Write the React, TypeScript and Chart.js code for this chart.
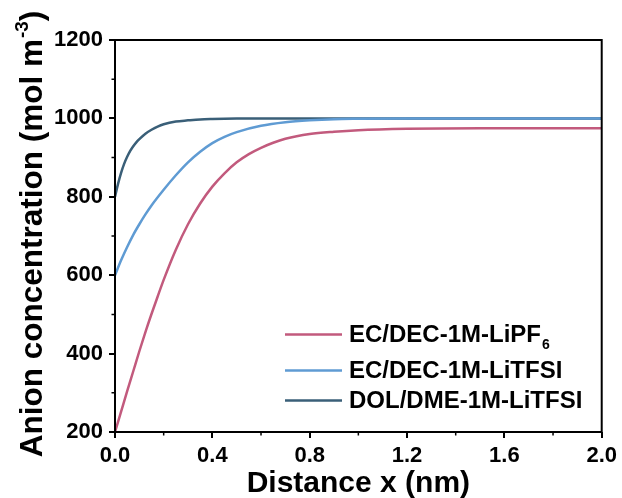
import React, { useEffect, useRef } from "react";
import { Chart, registerables } from "chart.js";

Chart.register(...registerables);

const FONT = "'Liberation Sans', Arial, Helvetica, sans-serif";

// Series labels (main part + subscript)
const seriesLabels = ["EC/DEC-1M-LiPF", "EC/DEC-1M-LiTFSI", "DOL/DME-1M-LiTFSI"];
const seriesSubscripts = ["6", "", ""];
const seriesColors = ["#c25a7d", "#5f9bd3", "#3a5f78"];

// EC/DEC-1M-LiPF6
const redX = [0, 0.025, 0.05, 0.075, 0.1, 0.125, 0.15, 0.175, 0.2, 0.25, 0.3, 0.35, 0.4, 0.45, 0.5, 0.55, 0.6, 0.65, 0.7, 0.8, 0.9, 1.0, 1.2, 1.5, 2.0];
const redY = [200, 252, 304, 355, 406, 455, 501, 545, 588, 665, 730, 783, 826, 860, 888, 909, 925, 938, 948, 960, 966, 970, 973.5, 975, 975];

// EC/DEC-1M-LiTFSI
const blueX = [0, 0.025, 0.05, 0.075, 0.1, 0.125, 0.15, 0.2, 0.25, 0.3, 0.35, 0.4, 0.45, 0.5, 0.6, 0.7, 0.8, 0.9, 1.0, 1.2, 2.0];
const blueY = [600, 638, 672, 703, 730, 755, 778, 818, 855, 888, 915, 937, 953, 965, 981, 990, 995, 998, 999, 1000, 1000];

// DOL/DME-1M-LiTFSI
const darkX = [0, 0.0125, 0.025, 0.0375, 0.05, 0.0625, 0.075, 0.0875, 0.1, 0.125, 0.15, 0.175, 0.2, 0.25, 0.3, 0.35, 0.4, 0.5, 0.6, 2.0];
const darkY = [800, 833, 861, 884, 902, 917, 929, 939, 947, 961, 971, 979, 985, 992, 995, 997.5, 998.5, 999.5, 1000, 1000];

const xMin = 0;
const xMax = 2.0;
const xStep = 0.4;
const xMinorTicks = [0.2, 0.6, 1.0, 1.4, 1.8];
const yMin = 200;
const yMax = 1200;
const yStep = 200;
const yMinorTicks = [300, 500, 700, 900, 1100];

const xTitle = "Distance x (nm)";
const yTitleMain = "Anion concentration (mol m";
const yTitleSup = "-3";
const yTitleEnd = ")";

const toPoints = (xs: number[], ys: number[]) => xs.map((x, i) => ({ x, y: ys[i] }));

const decorPlugin = {
  id: "decor",
  afterDraw(chart: any) {
    const { ctx, chartArea } = chart;
    const { left, right, top, bottom } = chartArea;
    const xs = chart.scales.x;
    const ys = chart.scales.y;
    ctx.save();
    // frame
    ctx.strokeStyle = "#000";
    ctx.lineWidth = 2;
    ctx.strokeRect(left, top, right - left, bottom - top);
    // minor ticks
    ctx.lineWidth = 1.5;
    ctx.beginPath();
    yMinorTicks.forEach((v) => {
      const p = ys.getPixelForValue(v);
      ctx.moveTo(left - 3.5, p);
      ctx.lineTo(left, p);
    });
    xMinorTicks.forEach((v) => {
      const p = xs.getPixelForValue(v);
      ctx.moveTo(p, bottom);
      ctx.lineTo(p, bottom + 3.5);
    });
    ctx.stroke();

    // legend
    const rowsY = [334.5, 370.5, 400.5];
    seriesLabels.forEach((label, i) => {
      const y = rowsY[i];
      ctx.strokeStyle = seriesColors[i];
      ctx.lineWidth = 2.5;
      ctx.beginPath();
      ctx.moveTo(285, y);
      ctx.lineTo(342, y);
      ctx.stroke();
      ctx.fillStyle = "#000";
      ctx.font = `bold 24px ${FONT}`;
      ctx.textAlign = "left";
      ctx.textBaseline = "alphabetic";
      const base = y + 7.5;
      ctx.fillText(label, 349, base);
      if (seriesSubscripts[i]) {
        const w = ctx.measureText(label).width;
        ctx.font = `bold 14px ${FONT}`;
        ctx.fillText(seriesSubscripts[i], 349 + w + 1, base + 7);
      }
    });

    // x title
    ctx.fillStyle = "#000";
    ctx.font = `bold 30px ${FONT}`;
    ctx.textAlign = "center";
    ctx.textBaseline = "alphabetic";
    ctx.fillText(xTitle, (left + right) / 2, 492);

    // y title (rotated)
    ctx.save();
    ctx.translate(42, 234);
    ctx.rotate(-Math.PI / 2);
    ctx.textAlign = "left";
    ctx.font = `bold 31.5px ${FONT}`;
    const wMain = ctx.measureText(yTitleMain).width;
    const wEnd = ctx.measureText(yTitleEnd).width;
    ctx.font = `bold 19px ${FONT}`;
    const wSup = ctx.measureText(yTitleSup).width;
    const total = wMain + wSup + wEnd + 1;
    let cx = -total / 2;
    ctx.font = `bold 31.5px ${FONT}`;
    ctx.fillText(yTitleMain, cx, 0);
    cx += wMain + 1;
    ctx.font = `bold 19px ${FONT}`;
    ctx.fillText(yTitleSup, cx, -14);
    cx += wSup;
    ctx.font = `bold 31.5px ${FONT}`;
    ctx.fillText(yTitleEnd, cx, 0);
    ctx.restore();

    ctx.restore();
  },
};

export default function App() {
  const canvasRef = useRef<HTMLCanvasElement | null>(null);

  useEffect(() => {
    if (!canvasRef.current) return;
    const datasets = [
      toPoints(redX, redY),
      toPoints(blueX, blueY),
      toPoints(darkX, darkY),
    ].map((data, i) => ({
      label: seriesLabels[i] + seriesSubscripts[i],
      data,
      borderColor: seriesColors[i],
      backgroundColor: seriesColors[i],
      borderWidth: 2.5,
      pointRadius: 0,
      fill: false,
      cubicInterpolationMode: "monotone" as const,
    }));

    const tickFont = { family: FONT, size: 22, weight: "bold" as const };
    const chart = new Chart(canvasRef.current, {
      type: "line",
      data: { datasets },
      options: {
        animation: false,
        responsive: true,
        maintainAspectRatio: false,
        layout: { padding: { top: 40, right: 19, left: 0, bottom: 0 } },
        plugins: {
          legend: { display: false },
          tooltip: { enabled: false },
        },
        scales: {
          x: {
            type: "linear",
            min: xMin,
            max: xMax,
            afterFit: (s: any) => {
              s.height = 66;
            },
            grid: {
              display: true,
              drawOnChartArea: false,
              drawTicks: true,
              tickLength: 6,
              color: "#000",
              lineWidth: 2,
            },
            border: { display: false },
            ticks: {
              stepSize: xStep,
              color: "#000",
              font: tickFont,
              padding: 5,
              maxRotation: 0,
              autoSkip: false,
              callback: (v: any) => Number(v).toFixed(1),
            },
          },
          y: {
            type: "linear",
            min: yMin,
            max: yMax,
            afterFit: (s: any) => {
              s.width = 115;
            },
            grid: {
              display: true,
              drawOnChartArea: false,
              drawTicks: true,
              tickLength: 6,
              color: "#000",
              lineWidth: 2,
            },
            border: { display: false },
            ticks: {
              stepSize: yStep,
              color: "#000",
              font: tickFont,
              padding: 6,
              callback: (v: any) => String(v),
            },
          },
        },
      },
      plugins: [decorPlugin],
    });
    return () => chart.destroy();
  }, []);

  return (
    <div
      style={{
        position: "absolute",
        left: 0,
        top: 0,
        width: 622,
        height: 498,
        background: "#fff",
      }}
    >
      <canvas ref={canvasRef} />
    </div>
  );
}
